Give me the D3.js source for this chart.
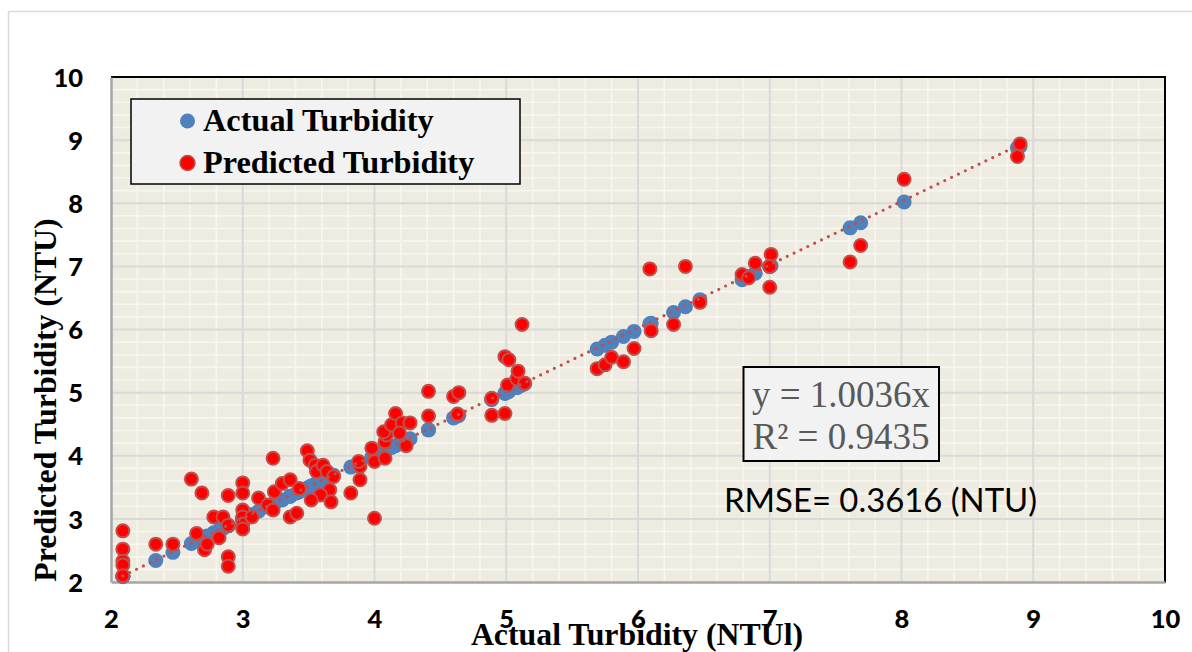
<!DOCTYPE html>
<html><head><meta charset="utf-8">
<script src="https://cdn.jsdelivr.net/npm/d3@7"></script>
<style>html,body{margin:0;padding:0;background:#fff;}svg{display:block;}</style>
</head><body>
<svg id="chart" width="1192" height="652"></svg>
<script>
// ---- data (actual NTU, predicted NTU) ----
const actual = [
 2.09,2.09,2.09,2.09,2.09, 2.34,2.47,2.61,
 2.65,2.69,2.71,2.73,2.78,2.82,2.85,2.89,2.89,2.89,2.89,
 3.00,3.00,3.00,3.00,3.00,3.00,3.07,3.12,3.19,3.23,3.23,3.24,3.30,3.36,3.36,3.41,3.43,
 3.49,3.51,3.55,3.56,3.61,3.64,3.69,3.66,3.59,3.52,3.67,
 3.82,3.89,3.89,3.88,
 4.00,3.98,4.00,4.08,4.08,4.09,4.07,4.13,4.16,4.21,4.19,4.27,4.24,
 4.41,4.41,4.60,4.64,4.63,
 4.89,4.89,4.99,4.99,5.02,5.01,5.08,5.09,5.12,5.14,
 5.69,5.75,5.80,5.89,5.97,6.09,6.10,6.27,6.36,6.47,
 6.79,6.84,6.89,7.00,7.01,7.00,
 7.61,7.69,8.02,8.90,8.88
];
const predicted = [
 2.81,2.52,2.33,2.27,2.10, 2.60,2.60,3.63,
 2.77,3.41,2.51,2.60,3.03,2.70,3.03,2.90,3.37,2.40,2.25,
 3.57,3.41,3.14,3.03,2.92,2.84,3.03,3.33,3.22,3.14,3.96,3.43,3.56,3.62,3.03,3.09,3.48,
 4.08,3.93,3.85,3.75,3.85,3.75,3.67,3.46,3.38,3.30,3.27,
 3.41,3.62,3.83,3.91,
 3.01,4.12,3.91,3.96,4.22,4.33,4.38,4.49,4.67,4.52,4.36,4.52,4.16,
 5.02,4.63,4.94,5.00,4.66,
 4.91,4.64,4.67,5.57,5.52,5.12,5.22,5.34,6.08,5.15,
 5.38,5.44,5.56,5.49,5.70,6.96,5.98,6.08,7.00,6.43,
 6.87,6.82,7.05,6.67,7.19,7.00,
 7.07,7.33,8.38,8.94,8.74
];
const slope = 1.0036;
const xTicks = [2,3,4,5,6,7,8,9,10];
const yTicks = [2,3,4,5,6,7,8,9,10];
const seriesNames = ["Actual Turbidity","Predicted Turbidity"];
const xTitle = "Actual Turbidity (NTUl)";
const yTitle = "Predicted Turbidity (NTU)";
const eqLines = ["y = 1.0036x","R² = 0.9435"];
const rmseText = "RMSE= 0.3616 (NTU)";

// ---- layout ----
const svg = d3.select("#chart");
const L = 111, R = 1165, T = 77, B = 582;
const x = d3.scaleLinear().domain([2,10]).range([L,R]);
const y = d3.scaleLinear().domain([2,10]).range([B,T]);
const colBlue = "#4f81bd", colRed = "#ff0000", colRedEdge = "#c0504d";

// outer chart border
svg.append("rect").attr("x",8.5).attr("y",11.5).attr("width",1200).attr("height",700)
  .attr("fill","#fff").attr("stroke","#d9d9d9").attr("stroke-width",1.5);

// plot background
svg.append("rect").attr("x",L).attr("y",T).attr("width",R-L).attr("height",B-T).attr("fill","#eeece1");

// minor gridlines
const minor = d3.range(2,10.001,0.2).filter(v => Math.abs(v-Math.round(v))>0.01);
const g = svg.append("g");
g.selectAll(".mx").data(minor).join("line")
  .attr("x1",d=>x(d)).attr("x2",d=>x(d)).attr("y1",T).attr("y2",B)
  .attr("stroke","#f7f6f1").attr("stroke-width",1.6);
g.selectAll(".my").data(minor).join("line")
  .attr("y1",d=>y(d)).attr("y2",d=>y(d)).attr("x1",L).attr("x2",R)
  .attr("stroke","#f7f6f1").attr("stroke-width",1.6);
// major gridlines
g.selectAll(".Mx").data(xTicks.slice(1,-1)).join("line")
  .attr("x1",d=>x(d)).attr("x2",d=>x(d)).attr("y1",T).attr("y2",B)
  .attr("stroke","#d9d9d9").attr("stroke-width",2);
g.selectAll(".My").data(yTicks.slice(1,-1)).join("line")
  .attr("y1",d=>y(d)).attr("y2",d=>y(d)).attr("x1",L).attr("x2",R)
  .attr("stroke","#d9d9d9").attr("stroke-width",2);

// plot frame: top/right black, left/bottom gray axes
svg.append("line").attr("x1",L).attr("x2",R+1).attr("y1",T).attr("y2",T).attr("stroke","#000").attr("stroke-width",2);
svg.append("line").attr("x1",R).attr("x2",R).attr("y1",T).attr("y2",B+1).attr("stroke","#000").attr("stroke-width",2);

// axes via d3
const xAxis = svg.append("g").attr("transform",`translate(0,${B})`)
  .call(d3.axisBottom(x).tickValues(xTicks).tickSize(0).tickPadding(28).tickFormat(d3.format("d")));
const yAxis = svg.append("g").attr("transform",`translate(${L},0)`)
  .call(d3.axisLeft(y).tickValues(yTicks).tickSize(0).tickPadding(28).tickFormat(d3.format("d")));
[xAxis,yAxis].forEach(a=>{
  a.select(".domain").attr("stroke","#a6a6a6").attr("stroke-width",2.5);
  a.selectAll("text").attr("font-family","Lato, 'Open Sans', sans-serif").attr("font-weight","900")
   .attr("font-size",25.5).attr("fill","#000");
});
xAxis.selectAll("text").attr("dy","0.71em");
yAxis.selectAll("text").attr("dy","0.36em");

// points
const pts = actual.map((a,i)=>({a, p: predicted[i]}));
svg.append("g").selectAll("circle").data(pts).join("circle")
  .attr("cx",d=>x(d.a)).attr("cy",d=>y(d.a)).attr("r",7.5).attr("fill",colBlue);
svg.append("g").selectAll("circle").data(pts).join("circle")
  .attr("cx",d=>x(d.a)).attr("cy",d=>y(d.p)).attr("r",6.5).attr("fill",colRed)
  .attr("stroke",colRedEdge).attr("stroke-width",2);

// trendline
const xmin = d3.min(actual), xmax = d3.max(actual);
svg.append("line").attr("x1",x(xmin)).attr("y1",y(slope*xmin)).attr("x2",x(xmax)).attr("y2",y(slope*xmax))
  .attr("stroke",colRedEdge).attr("stroke-width",3.2).attr("stroke-linecap","round")
  .attr("stroke-dasharray","0,7.6");

// legend
const lg = svg.append("g");
lg.append("rect").attr("x",131).attr("y",99).attr("width",389).attr("height",85)
  .attr("fill","#f2f2f2").attr("stroke","#000").attr("stroke-width",1.5);
[colBlue,colRed].forEach((c,i)=>{
  lg.append("circle").attr("cx",187.5).attr("cy",121+i*42).attr("r",7.5).attr("fill",c)
    .attr("stroke", i ? colRedEdge : "none").attr("stroke-width",1.5);
  lg.append("text").attr("x",203).attr("y",131+i*42).text(seriesNames[i])
    .attr("font-family","'Liberation Serif','Times New Roman',serif").attr("font-weight","bold")
    .attr("font-size",32.3).attr("fill","#000");
});

// equation box
const eg = svg.append("g");
eg.append("rect").attr("x",743.5).attr("y",367).attr("width",195.5).attr("height",94)
  .attr("fill","#f2f2f2").attr("stroke","#000").attr("stroke-width",2);
eqLines.forEach((t,i)=>{
  eg.append("text").attr("x",841).attr("y",407+i*42).attr("text-anchor","middle").text(t)
    .attr("font-family","'Liberation Serif','Times New Roman',serif").attr("font-size",37)
    .attr("fill","#595959");
});

// RMSE
svg.append("text").attr("x",724).attr("y",512).text(rmseText)
  .attr("font-family","Lato, 'Open Sans', sans-serif").attr("font-size",32).attr("fill","#000")
  .attr("textLength",313).attr("lengthAdjust","spacingAndGlyphs");

// axis titles
svg.append("text").attr("x",637).attr("y",645).attr("text-anchor","middle").text(xTitle)
  .attr("font-family","'Liberation Serif','Times New Roman',serif").attr("font-weight","bold")
  .attr("font-size",31.8).attr("fill","#000");
svg.append("text").attr("transform","translate(56,400) rotate(-90)").attr("text-anchor","middle").text(yTitle)
  .attr("font-family","'Liberation Serif','Times New Roman',serif").attr("font-weight","bold")
  .attr("font-size",31.8).attr("fill","#000");
</script>
</body></html>
